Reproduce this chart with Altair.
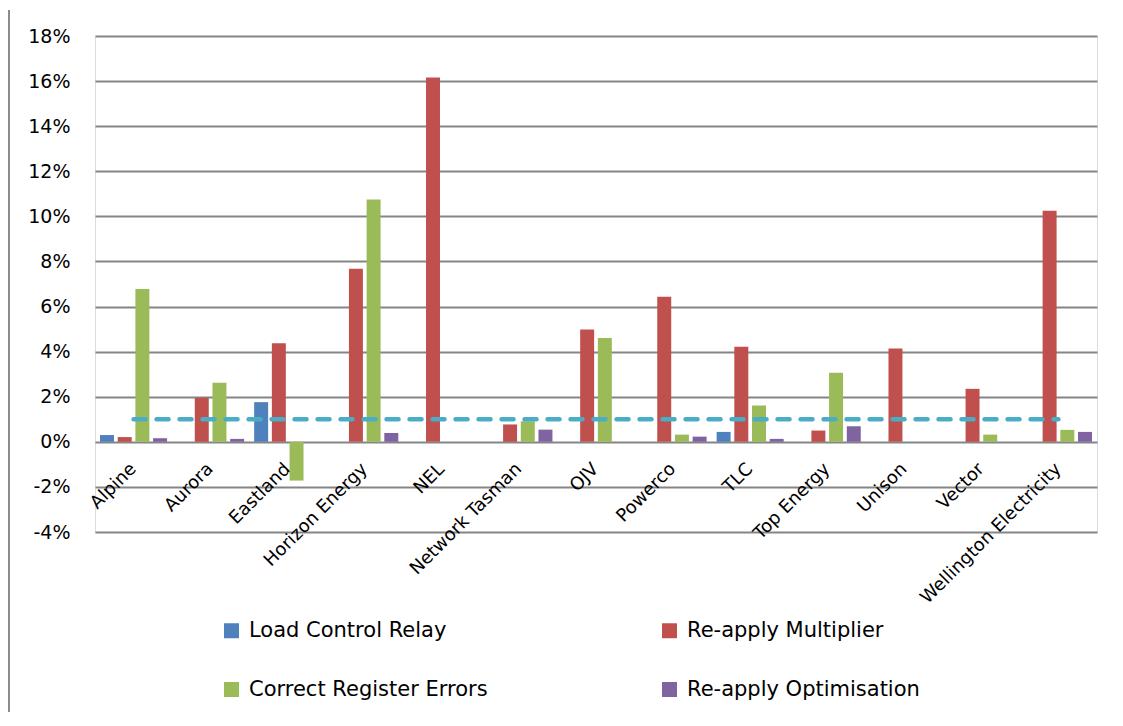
import altair as alt
import pandas as pd

categories = ["Alpine", "Aurora", "Eastland", "Horizon Energy", "NEL", "Network Tasman",
              "OJV", "Powerco", "TLC", "Top Energy", "Unison", "Vector", "Wellington Electricity"]
series_names = ["Load Control Relay", "Re-apply Multiplier", "Correct Register Errors", "Re-apply Optimisation"]

load_control_relay = [0.0030, None, 0.0176, None, None, None, None, None, 0.0044, None, None, None, None]
reapply_multiplier = [0.0021, 0.0195, 0.0437, 0.0768, 0.1616, 0.0077, 0.0498, 0.0643, 0.0422, 0.0050, 0.0414, 0.0235, 0.1025]
correct_register_errors = [0.0678, 0.0262, -0.0172, 0.1075, None, 0.0091, 0.0461, 0.0032, 0.0161, 0.0306, None, 0.0032, 0.0053]
reapply_optimisation = [0.0016, 0.0013, None, 0.0039, None, 0.0054, None, 0.0023, 0.0013, 0.0069, None, None, 0.0044]
threshold = [0.01, 0.01, 0.01, 0.01, 0.01, 0.01, 0.01, 0.01, 0.01, 0.01, 0.01, 0.01, 0.01]

y_ticks = [-0.04, -0.02, 0.0, 0.02, 0.04, 0.06, 0.08, 0.10, 0.12, 0.14, 0.16, 0.18]
colors = ["#4F81BD", "#C0504D", "#9BBB59", "#8064A2"]

rows = []
for name, vals in zip(series_names, [load_control_relay, reapply_multiplier, correct_register_errors, reapply_optimisation]):
    for c, v in zip(categories, vals):
        if v is not None:
            rows.append({"category": c, "series": name, "value": v})
bars_df = pd.DataFrame(rows)
line_df = pd.DataFrame({"category": categories, "value": threshold})

FONT = "DejaVu Sans"

x_enc = alt.X(
    "category:N", sort=categories,
    scale=alt.Scale(paddingInner=0.13, paddingOuter=0.065),
    axis=alt.Axis(title=None, labelAngle=-45, labelAlign="right", labelBaseline="middle",
                  labelFontSize=18, labelPadding=24, domain=False, ticks=False, tickSize=0,
                  offset=-90, grid=False, labelLimit=400, labelColor="black", labelFont=FONT),
)
y_enc = alt.Y(
    "value:Q",
    scale=alt.Scale(domain=[-0.04, 0.18], nice=False, zero=False),
    axis=alt.Axis(title=None, values=y_ticks, labelExpr="round(datum.value * 100) + '%'",
                  labelFontSize=19, labelPadding=25,
                  domain=False, ticks=False, tickSize=0, grid=True, gridColor="#858585",
                  gridWidth=1.8, labelColor="black", labelFont=FONT),
)

bars = alt.Chart(bars_df).mark_bar().encode(
    x=x_enc,
    xOffset=alt.XOffset("series:N", sort=series_names, scale=alt.Scale(paddingInner=0.21, paddingOuter=0)),
    y=y_enc,
    color=alt.Color(
        "series:N", sort=series_names,
        scale=alt.Scale(domain=series_names, range=colors),
        legend=alt.Legend(title=None, orient="none", legendX=126, legendY=584, columns=2,
                          direction="horizontal",
                          symbolType="square", symbolSize=225, symbolStrokeWidth=0,
                          labelFontSize=21, labelFont=FONT, labelColor="black", labelOffset=7,
                          rowPadding=37, columnPadding=171, padding=0, labelLimit=400),
    ),
)

line = alt.Chart(line_df).mark_line(
    color="#4BACC6", strokeWidth=4.5, strokeDash=[12, 11], strokeCap="round"
).encode(
    x=alt.X("category:N", sort=categories),
    y=alt.Y("value:Q"),
)

frame_df = pd.DataFrame({"k": [0]})
left_border = alt.Chart(frame_df).mark_rule(color="#8c8c8c", strokeWidth=2).encode(
    x=alt.value(-86), y=alt.value(-26), y2=alt.value(700)
)

chart = alt.layer(bars, line, left_border).properties(
    width=1002, height=496,
    autosize=alt.AutoSizeParams(type="none"),
    padding={"left": 87, "top": 28, "right": 18, "bottom": 180},
).configure_view(stroke=None).configure(font=FONT)

chart.save("out.html", embed_options={"renderer": "svg", "actions": False})
